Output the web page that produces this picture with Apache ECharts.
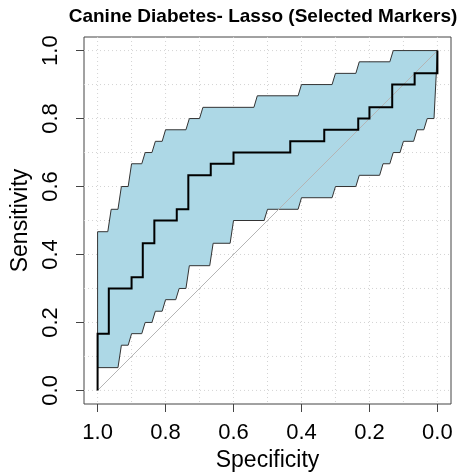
<!DOCTYPE html>
<html>
<head>
<meta charset="utf-8">
<script src="https://cdn.jsdelivr.net/npm/echarts@6/dist/echarts.min.js"></script>
<style>
html,body{margin:0;padding:0;background:#fff;}
#chart{width:467px;height:474px;}
</style>
</head>
<body>
<div id="chart"></div>
<script>
// ROC curve (specificity, sensitivity) corner points
const rocSpec = [1.000, 1.000, 0.967, 0.967, 0.900, 0.900, 0.867, 0.867, 0.833, 0.833, 0.767, 0.767, 0.733, 0.733, 0.667, 0.667, 0.600, 0.600, 0.433, 0.433, 0.333, 0.333, 0.233, 0.233, 0.200, 0.200, 0.133, 0.133, 0.067, 0.067, 0.000, 0.000];
const rocSens = [0.000, 0.167, 0.167, 0.300, 0.300, 0.333, 0.333, 0.433, 0.433, 0.500, 0.500, 0.533, 0.533, 0.633, 0.633, 0.667, 0.667, 0.700, 0.700, 0.733, 0.733, 0.767, 0.767, 0.800, 0.800, 0.833, 0.833, 0.900, 0.900, 0.933, 0.933, 1.000];

// Confidence band of sensitivity: upper bound
const ciUpperSpec = [1.00, 0.97, 0.96, 0.94, 0.93, 0.91, 0.90, 0.87, 0.86, 0.84, 0.83, 0.81, 0.80, 0.74, 0.73, 0.70, 0.69, 0.54, 0.53, 0.41, 0.40, 0.31, 0.30, 0.24, 0.23, 0.14, 0.13, 0.00];
const ciUpperSens = [0.467, 0.467, 0.533, 0.533, 0.600, 0.600, 0.667, 0.667, 0.700, 0.700, 0.733, 0.733, 0.767, 0.767, 0.800, 0.800, 0.833, 0.833, 0.867, 0.867, 0.900, 0.900, 0.933, 0.933, 0.967, 0.967, 1.000, 1.000];

// Confidence band of sensitivity: lower bound
const ciLowerSpec = [1.00, 0.94, 0.93, 0.91, 0.90, 0.87, 0.86, 0.84, 0.83, 0.81, 0.80, 0.77, 0.76, 0.74, 0.73, 0.67, 0.66, 0.61, 0.60, 0.51, 0.50, 0.41, 0.40, 0.31, 0.30, 0.24, 0.23, 0.17, 0.16, 0.14, 0.13, 0.11, 0.10, 0.07, 0.06, 0.04, 0.03, 0.01, 0.00];
const ciLowerSens = [0.067, 0.067, 0.133, 0.133, 0.167, 0.167, 0.200, 0.200, 0.233, 0.233, 0.267, 0.267, 0.300, 0.300, 0.367, 0.367, 0.433, 0.433, 0.500, 0.500, 0.533, 0.533, 0.567, 0.567, 0.600, 0.600, 0.633, 0.633, 0.667, 0.667, 0.700, 0.700, 0.733, 0.733, 0.767, 0.767, 0.800, 0.800, 1.000];

// Tick labels and grid lines
const tickValues = [0.0, 0.2, 0.4, 0.6, 0.8, 1.0];
const gridValues = [0.0, 0.1, 0.2, 0.3, 0.4, 0.5, 0.6, 0.7, 0.8, 0.9, 1.0];

const titleText = 'Canine Diabetes- Lasso (Selected Markers)';
const xName = 'Specificity';
const yName = 'Sensitivity';

const FONT = '"Liberation Sans", Arial, sans-serif';

const rocData = rocSpec.map((s, i) => [s, rocSens[i]]);
const upperPts = ciUpperSpec.map((s, i) => [s, ciUpperSens[i]]);
const lowerPts = ciLowerSpec.map((s, i) => [s, ciLowerSens[i]]);
const bandPts = upperPts.concat(lowerPts.slice().reverse());

const chart = echarts.init(document.getElementById('chart'), null, {renderer: 'canvas'});

const option = {
  backgroundColor: '#ffffff',
  animation: false,
  title: {
    text: titleText,
    left: 263,
    top: 7,
    padding: 0,
    textAlign: 'center',
    textStyle: {fontFamily: FONT, fontWeight: 'bold', fontSize: 19, color: '#000'}
  },
  grid: {
    left: 84, top: 37, width: 367, height: 367,
    containLabel: false, outerBoundsMode: 'none',
    show: true, borderColor: '#444', borderWidth: 1, backgroundColor: 'transparent'
  },
  xAxis: {
    type: 'value', inverse: true, min: -0.04, max: 1.04,
    name: xName, nameLocation: 'middle', nameGap: 45,
    nameTextStyle: {fontFamily: FONT, fontSize: 23, color: '#000'},
    axisLine: {show: false, onZero: false},
    axisTick: {show: true, length: 8, customValues: tickValues, lineStyle: {color: '#444', width: 1}},
    axisLabel: {show: true, customValues: tickValues, margin: 18, fontFamily: FONT, fontSize: 22, color: '#000',
      formatter: v => v.toFixed(1)},
    splitLine: {show: false}
  },
  yAxis: {
    type: 'value', min: -0.04, max: 1.04,
    name: yName, nameLocation: 'middle', nameGap: 50, nameRotate: 90,
    nameTextStyle: {fontFamily: FONT, fontSize: 23, color: '#000'},
    axisLine: {show: false, onZero: false},
    axisTick: {show: true, length: 8, customValues: tickValues, lineStyle: {color: '#444', width: 1}},
    axisLabel: {show: true, customValues: tickValues, rotate: 90, margin: 22, fontFamily: FONT, fontSize: 22, color: '#000',
      formatter: v => v.toFixed(1)},
    splitLine: {show: false}
  },
  series: [
    {
      type: 'custom', z: 1, silent: true,
      data: gridValues,
      renderItem: function (params, api) {
        const v = api.value(0);
        const cs = params.coordSys;
        const px = api.coord([v, 0])[0];
        const py = api.coord([0, v])[1];
        const st = {stroke: '#d3d3d3', lineWidth: 1, lineDash: [1, 3]};
        return {
          type: 'group',
          children: [
            {type: 'line', shape: {x1: px, y1: cs.y, x2: px, y2: cs.y + cs.height}, style: st},
            {type: 'line', shape: {x1: cs.x, y1: py, x2: cs.x + cs.width, y2: py}, style: st}
          ]
        };
      }
    },
    {
      type: 'custom', z: 2, silent: true,
      data: [0],
      renderItem: function (params, api) {
        const pts = bandPts.map(p => api.coord(p));
        return {
          type: 'polygon',
          shape: {points: pts},
          style: {fill: '#add8e6', stroke: '#333', lineWidth: 1}
        };
      }
    },
    {
      type: 'line', z: 3, silent: true, symbol: 'none',
      data: [[1, 0], [0, 1]],
      lineStyle: {color: '#b5b5b5', width: 1}
    },
    {
      type: 'line', z: 4, silent: true, symbol: 'none',
      data: rocData,
      lineStyle: {color: '#000', width: 2, join: 'miter'}
    }
  ]
};
chart.setOption(option);
</script>
</body>
</html>
